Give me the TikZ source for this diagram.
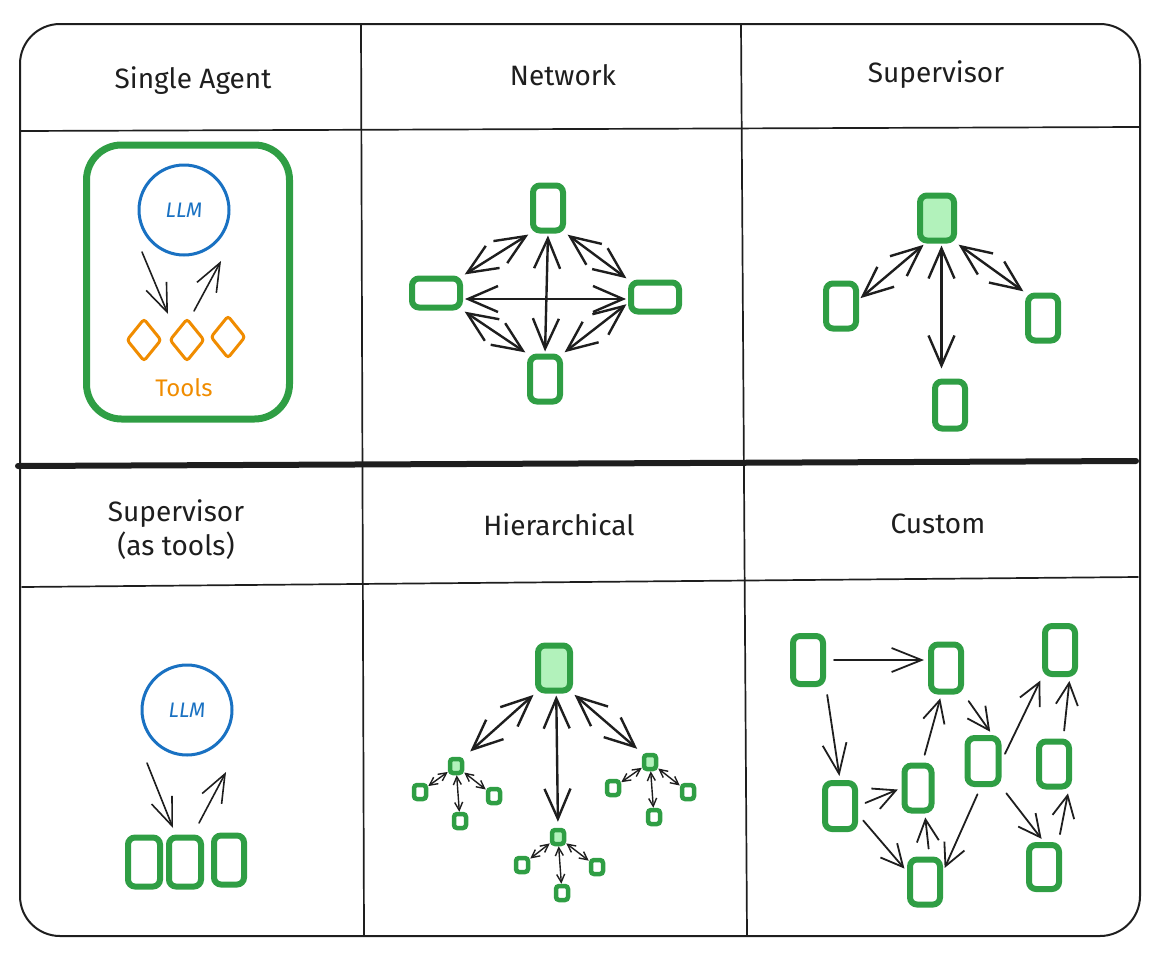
\documentclass[tikz,border=0pt]{standalone}
\usepackage{fontspec}
\setmainfont{Fira Sans}
\usetikzlibrary{arrows.meta,shapes.geometric,calc}
\definecolor{ink}{HTML}{1E1E1E}
\definecolor{agreen}{HTML}{2F9E44}
\definecolor{lgreen}{HTML}{B2F2BB}
\definecolor{ablue}{HTML}{1971C2}
\definecolor{aorange}{HTML}{F08C00}
\begin{document}
\begin{tikzpicture}[x=1pt,y=-1pt,
  hdr/.style={font=\fontsize{28}{34}\selectfont, text=ink, anchor=base, inner sep=0pt, align=center},
  grid/.style={draw=ink, line width=1.7pt, line cap=round},
  vbox/.style={draw=agreen, line width=6pt, rounded corners=7pt, inner sep=0pt, fill=white, minimum width=30pt, minimum height=45pt},
  hbox/.style={draw=agreen, line width=6pt, rounded corners=7pt, inner sep=0pt, fill=white, minimum width=48pt, minimum height=29pt},
  sup/.style={fill=lgreen},
  tiny/.style={draw=agreen, line width=4.5pt, rounded corners=3pt, inner sep=0pt, fill=white, minimum width=12pt, minimum height=14pt},
  llm/.style={circle, draw=ablue, line width=3pt, minimum size=90pt, inner sep=0pt, text=ablue, font=\fontsize{21}{24}\selectfont\itshape},
  tool/.style={diamond, draw=aorange, line width=3pt, rounded corners=3pt, inner sep=0pt, minimum width=35pt, minimum height=43pt},
  ar/.style={draw=ink, line width=1.6pt, line cap=round, -{Straight Barb[length=28pt,width=22pt]}},
  bi/.style={draw=ink, line width=2.4pt, line cap=round, {Straight Barb[length=30pt,width=26pt]}-{Straight Barb[length=30pt,width=26pt]}, shorten <=2pt, shorten >=2pt},
  cu/.style={draw=ink, line width=1.8pt, line cap=round, -{Straight Barb[length=22pt,width=22pt]}, shorten <=8pt, shorten >=4pt},
  sm/.style={draw=ink, line width=1.4pt, line cap=round, {Straight Barb[length=8pt,width=8pt]}-{Straight Barb[length=8pt,width=8pt]}, shorten <=0pt, shorten >=0pt}
]
\useasboundingbox (0,0) rectangle (1164,961);

% ---------- frame and grid ----------
\draw[draw=ink, line width=2pt, rounded corners=40pt] (20,24) rectangle (1140,936);
\draw[grid] (361,24) -- (364,936);
\draw[grid] (741,24) -- (747,936);
\draw[grid] (20,131) -- (1140,127);
\draw[draw=ink, line width=6pt, line cap=round] (18,466) -- (1136,461);
\draw[grid] (22,587) -- (1138,577);

% ---------- headers ----------
\node[hdr] (h1) at (193,88) {Single Agent};
\node[hdr] (h2) at (563,85) {Network};
\node[hdr] (h3) at (936,82) {Supervisor};
\node[hdr, anchor=center] (h4) at (176,530) {Supervisor\\(as tools)};
\node[hdr] (h5) at (559,535) {Hierarchical};
\node[hdr] (h6) at (938,533) {Custom};

% ---------- Single Agent ----------
\node[draw=agreen, line width=7pt, rounded corners=35pt, minimum width=203pt, minimum height=274pt, inner sep=0pt] (sa) at (188,282) {};
\node[llm] (llm1) at (184,210) {LLM};
\node[tool] (t1) at (144,340) {};
\node[tool] (t2) at (187,340) {};
\node[tool] (t3) at (228,337) {};
\node[text=aorange, font=\fontsize{24}{28}\selectfont, anchor=base, inner sep=0pt] (tl) at (184,396) {Tools};
\coordinate (sa1) at (142,252);
\coordinate (sa2) at (168,314);
\coordinate (sa3) at (194,311);
\coordinate (sa4) at (221,261);
\draw[ar] (sa1) -- (sa2);
\draw[ar] (sa3) -- (sa4);

% ---------- Network ----------
\node[vbox] (nt) at (548,208) {};
\node[vbox] (nb) at (545,379) {};
\node[hbox] (nl) at (436,293) {};
\node[hbox] (nr) at (655,297) {};
\draw[bi] (nl.north east) -- (nt.south west);
\draw[bi] (nt.south east) -- (nr.north west);
\draw[bi] ([yshift=-6pt]nr.west) -- (nb.north east);
\draw[bi] (nb.north west) -- (nl.south east);
\draw[bi] ([yshift=-6pt]nl.east) -- ([yshift=-6pt]nl.east -| nr.west);
\draw[bi] (nt.south) -- (nb.north);

% ---------- Supervisor ----------
\node[vbox, sup, minimum width=34pt] (st) at (937,218) {};
\node[vbox] (sl) at (841,306) {};
\node[vbox] (sr) at (1043,318) {};
\node[vbox, minimum height=47pt] (sb) at (950,405) {};
\draw[bi] (st.-115) -- (sl.20);
\draw[bi] (st.-80) -- ([yshift=8pt]st.-80 |- sb.north);
\draw[bi] (st.south east) -- (sr.north west);

% ---------- Supervisor (as tools) ----------
\node[llm] (llm2) at (187,710) {LLM};
\node[vbox, minimum width=32pt, minimum height=49pt] (b1) at (144,862) {};
\node[vbox, minimum width=32pt, minimum height=49pt] (b2) at (185,862) {};
\node[vbox, minimum width=30pt, minimum height=49pt] (b3) at (229,860) {};
\coordinate (st1) at (147,763);
\coordinate (st2) at (173,828);
\coordinate (st3) at (199,823);
\coordinate (st4) at (226,772);
\draw[ar] (st1) -- (st2);
\draw[ar] (st3) -- (st4);

% ---------- Hierarchical ----------
\node[vbox, sup, minimum width=32pt] (ht) at (554,668) {};
\node[tiny, sup] (hml) at (456,766) {};
\node[tiny, sup] (hmb) at (558,837) {};
\node[tiny, sup] (hmr) at (650,762) {};
\node[tiny] (l1) at (420,792) {};
\node[tiny] (l2) at (494,796) {};
\node[tiny] (l3) at (460,821) {};
\node[tiny] (b1l) at (522,865) {};
\node[tiny] (b2l) at (597,867) {};
\node[tiny] (b3l) at (562,893) {};
\node[tiny] (r1) at (613,788) {};
\node[tiny] (r2) at (688,792) {};
\node[tiny] (r3) at (654,817) {};
\draw[bi, shorten >=8pt] (ht.south west) -- (hml.north east);
\draw[bi, shorten >=6pt] (ht.-85) -- (hmb.north);
\draw[bi, shorten >=6pt] (ht.south east) -- (hmr.north west);
\foreach \m/\a/\b/\c in {hml/l1/l2/l3, hmb/b1l/b2l/b3l, hmr/r1/r2/r3}{
  \draw[sm] (\m) -- (\a);
  \draw[sm] (\m) -- (\b);
  \draw[sm] (\m) -- (\c);
}

% ---------- Custom ----------
\node[vbox, minimum height=48pt] (ca) at (808,660) {};
\node[vbox, minimum height=47pt] (cb) at (946,668) {};
\node[vbox, minimum height=48pt] (cc) at (1060,650) {};
\node[vbox, minimum height=46pt] (cd) at (840,806) {};
\node[vbox, minimum width=27pt] (ce) at (918,788) {};
\node[vbox, minimum width=31pt, minimum height=46pt] (cf) at (983,761) {};
\node[vbox] (cg) at (1054,764) {};
\node[vbox] (ch) at (925,882) {};
\node[vbox, minimum height=44pt] (ci) at (1044,867) {};
\draw[cu, -{Straight Barb[length=30pt,width=24pt]}] (ca.east) -- (ca.east -| cb.west);
\draw[cu, -{Straight Barb[length=30pt,width=24pt]}] (ca.south east) -- (cd.north);
\draw[cu] (cd.east) -- (ce.west);
\draw[cu] (cd.-25) -- (ch.150);
\draw[cu] (ch.80) -- (ce.-75);
\draw[cu] (ce.80) -- (cb.-100);
\draw[cu] (cb.south east) -- (cf.70);
\draw[cu] (cf.-95) -- (ch.30);
\draw[cu] (cf.east) -- (cc.south west);
\draw[cu] (cf.south east) -- (ci.north);
\draw[cu] (ci.60) -- (cg.-60);
\draw[cu] (cg.70) -- (cc.-70);
\end{tikzpicture}
\end{document}
